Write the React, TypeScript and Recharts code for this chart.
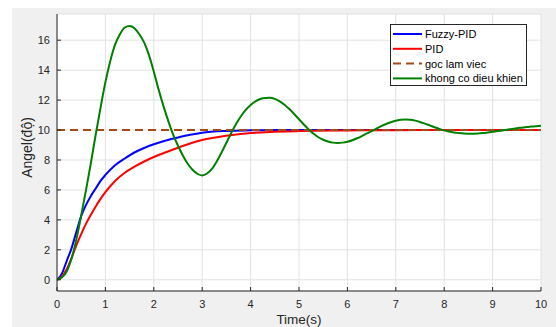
import { LineChart, Line, XAxis, YAxis, CartesianGrid, Legend, Label } from 'recharts';

// time axis for the uncontrolled response (s)
const timeGreen = [
  0, 0.1, 0.2, 0.3, 0.4, 0.5, 0.6, 0.7, 0.8, 0.9,
  1.0, 1.1, 1.2, 1.3, 1.4, 1.5, 1.6, 1.7, 1.8, 1.9,
  2.0, 2.1, 2.2, 2.3, 2.4, 2.5, 2.6, 2.7, 2.8, 2.9,
  3.0, 3.1, 3.2, 3.3, 3.4, 3.5, 3.6, 3.7, 3.8, 3.9,
  4.0, 4.1, 4.2, 4.3, 4.4, 4.5, 4.6, 4.7, 4.8, 4.9,
  5.0, 5.1, 5.2, 5.3, 5.4, 5.5, 5.6, 5.7, 5.8, 5.9,
  6.0, 6.1, 6.2, 6.3, 6.4, 6.5, 6.6, 6.7, 6.8, 6.9,
  7.0, 7.1, 7.2, 7.3, 7.4, 7.5, 7.6, 7.7, 7.8, 7.9,
  8.0, 8.1, 8.2, 8.3, 8.4, 8.5, 8.6, 8.7, 8.8, 8.9,
  9.0, 9.1, 9.2, 9.3, 9.4, 9.5, 9.6, 9.7, 9.8, 9.9,
  10,
];
const khongDieuKhien = [
  0, 0.15, 0.55, 1.4, 2.7, 4.3, 6.0, 7.8, 9.7, 11.5,
  13.2, 14.6, 15.7, 16.4, 16.85, 16.95, 16.8, 16.4, 15.85, 15.0,
  13.9, 12.7, 11.6, 10.6, 9.7, 8.95, 8.3, 7.75, 7.35, 7.08,
  6.97, 7.1, 7.4, 7.9, 8.5, 9.15, 9.8, 10.4, 10.92, 11.35,
  11.68, 11.92, 12.07, 12.14, 12.15, 12.08, 11.92, 11.69, 11.4, 11.07,
  10.72, 10.37, 10.04, 9.75, 9.52, 9.35, 9.23, 9.16, 9.14, 9.16,
  9.22, 9.32, 9.45, 9.6, 9.77, 9.93, 10.1, 10.26, 10.4, 10.52,
  10.62, 10.68, 10.71, 10.69, 10.63, 10.54, 10.43, 10.31, 10.19, 10.08,
  9.98, 9.9, 9.84, 9.8, 9.77, 9.76, 9.76, 9.77, 9.8, 9.84,
  9.88, 9.93, 9.97, 10.02, 10.07, 10.12, 10.16, 10.2, 10.23, 10.26,
  10.28,
];

// time axis for the two controlled responses (s)
const timeCtrl = [
  0, 0.1, 0.2, 0.3, 0.4, 0.5, 0.6, 0.7, 0.8, 0.9, 1.0,
  1.2, 1.4, 1.6, 1.8, 2.0, 2.25, 2.5, 2.75, 3.0, 3.5, 4.0, 4.5,
  5, 6, 7, 8, 9, 10,
];
const fuzzyPid = [
  0, 0.4, 1.25, 2.1, 3.2, 4.25, 5.0, 5.6, 6.1, 6.6, 7.0,
  7.65, 8.1, 8.5, 8.8, 9.05, 9.3, 9.5, 9.68, 9.82, 9.94, 9.98, 10,
  10, 10, 10, 10, 10, 10,
];
const pid = [
  0, 0.2, 0.7, 1.45, 2.3, 3.05, 3.75, 4.35, 4.9, 5.4, 5.85,
  6.6, 7.15, 7.55, 7.9, 8.2, 8.52, 8.82, 9.1, 9.33, 9.62, 9.8, 9.88,
  9.93, 9.97, 9.99, 10, 10, 10,
];

// set point
const timeSet = [0, 10];
const gocLamViec = [10, 10];

const xTicks = [0, 1, 2, 3, 4, 5, 6, 7, 8, 9, 10];
const yTicks = [0, 2, 4, 6, 8, 10, 12, 14, 16];

const zip = (ts: number[], vs: number[]) => ts.map((t, i) => ({ t, v: vs[i] }));

const SERIES = [
  { key: 'fuzzy', name: 'Fuzzy-PID', color: '#0000ff', dash: undefined, data: zip(timeCtrl, fuzzyPid) },
  { key: 'pid', name: 'PID', color: '#ff0000', dash: undefined, data: zip(timeCtrl, pid) },
  { key: 'set', name: 'goc lam viec', color: '#a34a1c', dash: '8 5', data: zip(timeSet, gocLamViec) },
  { key: 'none', name: 'khong co dieu khien', color: '#008000', dash: undefined, data: zip(timeGreen, khongDieuKhien) },
];

const FONT = '"Liberation Sans", Arial, Helvetica, sans-serif';
const INK = '#262626';

function LegendBox() {
  return (
    <svg width={138} height={63} style={{ display: 'block' }}>
      <rect x={0.5} y={0.5} width={136} height={61} fill='#fff' stroke={INK} strokeWidth={1} />
      {SERIES.map((s, i) => {
        const y = 10 + i * 14.8;
        return (
          <g key={s.key}>
            <line x1={3} x2={32} y1={y} y2={y} stroke={s.color} strokeWidth={2} strokeDasharray={s.dash} />
            <text x={35} y={y + 4} fontSize={11} fontFamily={FONT} fill='#000'>
              {s.name}
            </text>
          </g>
        );
      })}
    </svg>
  );
}

function YLabel(props: any) {
  const vb = props.viewBox || { x: 0, y: 14, width: 57, height: 277 };
  const x = vb.x + 32;
  const y = vb.y + vb.height / 2 - 5;
  return (
    <text x={x} y={y} transform={`rotate(-90 ${x} ${y})`} textAnchor='middle' fontSize={14} fontFamily={FONT} fill={INK}>
      Angel(độ)
    </text>
  );
}

export default function App() {
  return (
    <div style={{ position: 'absolute', left: 0, top: 0, width: 556, height: 327, background: '#fff', overflow: 'hidden' }}>
      <div style={{ position: 'absolute', left: 12, top: 8, width: 544, height: 319, background: '#f0f0f0' }} />
      <div style={{ position: 'absolute', left: 0, top: 0 }}>
        <LineChart width={556} height={327} margin={{ top: 14, right: 15, left: 0, bottom: 0 }}>
          <CartesianGrid stroke='#e2e2e2' fill='#fff' fillOpacity={1} />
          <XAxis
            dataKey='t'
            type='number'
            domain={[0, 10]}
            ticks={xTicks}
            allowDataOverflow
            height={36}
            tickSize={-4}
            tickMargin={13}
            stroke={INK}
            tick={{ fill: INK, fontSize: 11, fontFamily: FONT }}
          >
            <Label value='Time(s)' position='insideBottom' offset={3} fontSize={13.5} fontFamily={FONT} fill={INK} />
          </XAxis>
          <YAxis
            type='number'
            domain={[-0.75, 17.75]}
            ticks={yTicks}
            allowDataOverflow
            width={57}
            tickSize={-4}
            tickMargin={11}
            stroke={INK}
            tick={{ fill: INK, fontSize: 11, fontFamily: FONT }}
          >
            <Label content={YLabel} />
          </YAxis>
          {SERIES.map((s) => (
            <Line
              key={s.key}
              data={s.data}
              dataKey='v'
              name={s.name}
              type='monotone'
              stroke={s.color}
              strokeWidth={2}
              strokeDasharray={s.dash}
              dot={false}
              activeDot={false}
              isAnimationActive={false}
            />
          ))}
          <Legend
            layout='vertical'
            align='center'
            verticalAlign='middle'
            wrapperStyle={{ left: 390, top: 24, width: 138, height: 63 }}
            content={() => <LegendBox />}
          />
        </LineChart>
      </div>
    </div>
  );
}
